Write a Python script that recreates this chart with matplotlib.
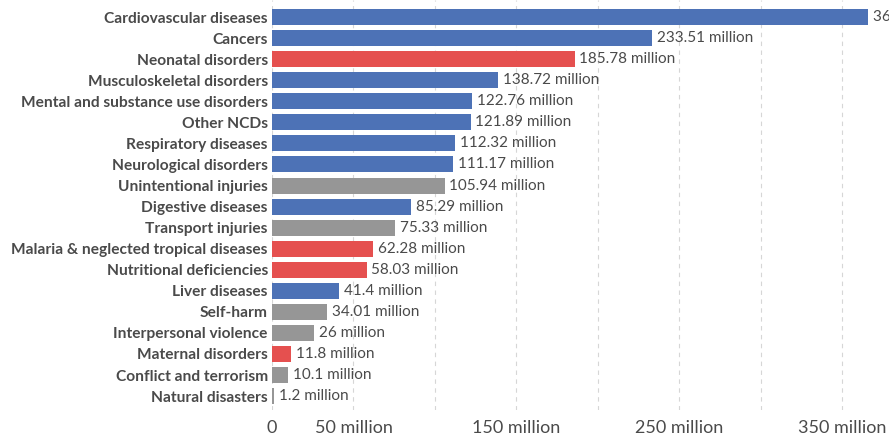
import matplotlib.pyplot as plt
from matplotlib.ticker import FixedLocator

causes = ["Cardiovascular diseases", "Cancers", "Neonatal disorders",
          "Musculoskeletal disorders", "Mental and substance use disorders",
          "Other NCDs", "Respiratory diseases", "Neurological disorders",
          "Unintentional injuries", "Digestive diseases", "Transport injuries",
          "Malaria & neglected tropical diseases", "Nutritional deficiencies",
          "Liver diseases", "Self-harm", "Interpersonal violence",
          "Maternal disorders", "Conflict and terrorism", "Natural disasters"]
dalys = [365.7, 233.51, 185.78, 138.72, 122.76, 121.89, 112.32, 111.17,
         105.94, 85.29, 75.33, 62.28, 58.03, 41.4, 34.01, 26, 11.8, 10.1, 1.2]
groups = ["ncd", "ncd", "cmnn", "ncd", "ncd", "ncd", "ncd", "ncd",
          "inj", "ncd", "inj", "cmnn", "cmnn", "ncd", "inj", "inj",
          "cmnn", "inj", "inj"]
tick_vals = [0, 50, 150, 250, 350]
tick_text = ["0", "50 million", "150 million", "250 million", "350 million"]

colors = {"ncd": "#4d72b6", "cmnn": "#e5504f", "inj": "#969696"}
text_col = "#4a4a4a"

plt.rcParams['font.family'] = ['Lato', 'DejaVu Sans']

fig = plt.figure(figsize=(8.89, 4.36), dpi=100)
ax = fig.add_axes([272 / 889, 1 - 410 / 436, 1 - 272 / 889, 410 / 436])

y = list(range(len(causes)))
ax.barh(y, dalys, height=0.76, color=[colors[g] for g in groups], zorder=2)

for yi, v in zip(y, dalys):
    ax.text(v + 3, yi, f"{v:g} million", va="center", ha="left",
            fontsize=11, color=text_col, clip_on=False)

ax.set_yticks(y)
ax.set_yticklabels(causes, fontsize=11.2, fontweight="bold", color=text_col)
ax.set_ylim(18.66, -0.81)
ax.set_xlim(0, 378.8)

ax.set_xticks(tick_vals)
ax.set_xticklabels(tick_text, fontsize=13, color=text_col)
ax.xaxis.set_minor_locator(FixedLocator([100, 200, 300]))
ax.grid(axis="x", which="both", linestyle=(0, (4, 4)), color="#d6d6d6",
        linewidth=0.8, zorder=0)
ax.tick_params(axis="both", which="both", length=0)
ax.tick_params(axis="y", pad=3)
ax.tick_params(axis="x", pad=7)

for s in ax.spines.values():
    s.set_visible(False)

fig.savefig("out.png", dpi=100)
